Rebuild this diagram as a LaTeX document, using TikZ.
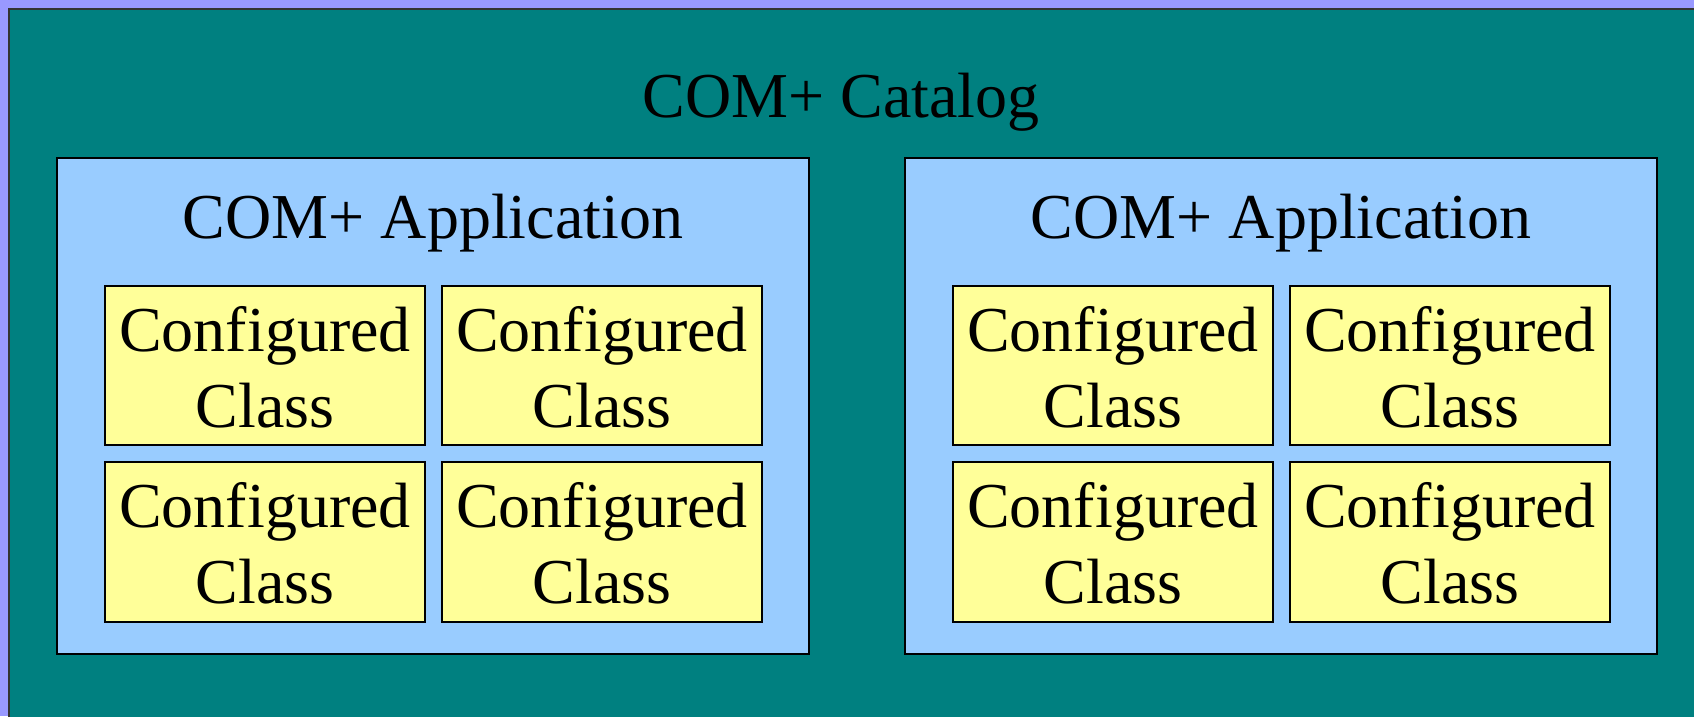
\documentclass[tikz,border=0pt]{standalone}
\usepackage{fontspec}
\setmainfont{Liberation Serif}
\definecolor{bgpurple}{HTML}{9999FF}
\definecolor{teal2}{HTML}{008080}
\definecolor{appblue}{HTML}{99CCFF}
\definecolor{clsyellow}{HTML}{FFFF99}
\begin{document}
\begin{tikzpicture}[x=1pt,y=-1pt,
  appbox/.style={draw=black,line width=2pt,fill=appblue},
  clsbox/.style={draw=black,line width=1.8pt,fill=clsyellow},
  lbl/.style={font=\fontsize{64}{76}\selectfont,align=center,inner sep=0pt}]
\useasboundingbox (0,0) rectangle (1694,716);
\fill[bgpurple] (0,0) rectangle (1694,716);
\draw[fill=teal2,draw=black!80,line width=2.5pt] (9,9) -- (1700,9) -- (1700,722) -- (9,722) -- cycle;
\node[lbl,anchor=base] (cat) at (841,117) {COM+ Catalog};
% left application
\draw[appbox] (57,158) rectangle (809,654);
\node[lbl,anchor=base] (appL) at (433,238) {COM+ Application};
\draw[clsbox] (105,286) rectangle (425,445);
\draw[clsbox] (442,286) rectangle (762,445);
\draw[clsbox] (105,462) rectangle (425,622);
\draw[clsbox] (442,462) rectangle (762,622);
\node[lbl] (c1) at (265,367) {Configured\\Class};
\node[lbl] (c2) at (602,367) {Configured\\Class};
\node[lbl] (c3) at (265,543) {Configured\\Class};
\node[lbl] (c4) at (602,543) {Configured\\Class};
% right application
\draw[appbox] (905,158) rectangle (1657,654);
\node[lbl,anchor=base] (appR) at (1281,238) {COM+ Application};
\draw[clsbox] (953,286) rectangle (1273,445);
\draw[clsbox] (1290,286) rectangle (1610,445);
\draw[clsbox] (953,462) rectangle (1273,622);
\draw[clsbox] (1290,462) rectangle (1610,622);
\node[lbl] (c5) at (1113,367) {Configured\\Class};
\node[lbl] (c6) at (1450,367) {Configured\\Class};
\node[lbl] (c7) at (1113,543) {Configured\\Class};
\node[lbl] (c8) at (1450,543) {Configured\\Class};
\end{tikzpicture}
\end{document}
